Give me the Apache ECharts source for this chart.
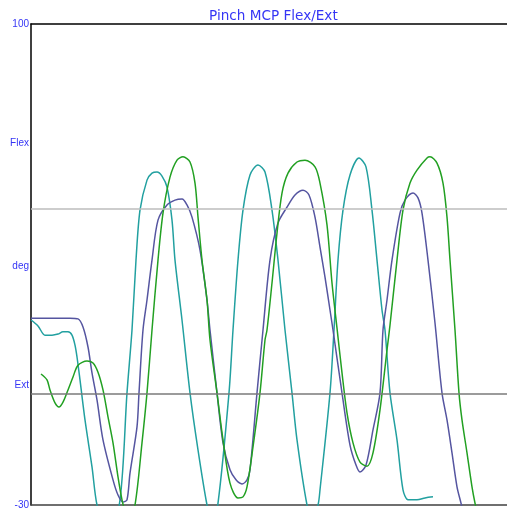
<!DOCTYPE html>
<html>
<head>
<meta charset="utf-8">
<script src="https://cdn.jsdelivr.net/npm/echarts@6/dist/echarts.min.js"></script>
<style>html,body{margin:0;padding:0;background:#fff}#c{width:507px;height:510px}</style>
</head>
<body>
<div id="c"></div>
<script>
// Chart title and axis text
const titleText = 'Pinch MCP Flex/Ext';
const yLabelValues = [100, 67.8, 34.5, 2.3, -30];
const yLabelTexts = ['100', 'Flex', 'deg', 'Ext', '-30'];
const refLevels = [50, 0];

// Sample index (time) and angle values (deg)
const tealT = [0,7,14,21,27,32,37,41,44,46,49,54,61,66,77,89,96,101,105,109,116,121,126,131,136,141,144,151,159,167,176,181,187,198,202,207,212,219,227,234,241,247,254,261,266,276,281,287,289,299,303,307,312,319,328,335,341,346,351,354,359,366,372,377,382,386,394,402];
const tealV = [20.0,18.4,15.9,15.9,16.2,16.8,16.8,15.9,13.2,10.0,3.8,-7.0,-19.7,-30,-40,-28.6,0.3,17.3,36.2,49.7,57.8,59.7,60.0,58.9,55.9,47.0,36.2,20.0,0.3,-15.1,-30,-35,-29.5,0.3,17.3,36.2,49.7,59.2,61.9,60.0,49.7,36.2,17.3,0.3,-12.4,-30,-34,-30,-25.9,0.3,17.3,36.2,49.7,59.2,63.8,61.4,49.7,36.2,22.7,17.3,0.3,-12.4,-25.9,-28.6,-28.6,-28.6,-28.1,-27.8];

const purpleT = [0,19,39,47,52,57,61,66,72,82,87,92,96,99,106,108,112,116,121,127,136,144,151,156,161,169,176,179,186,192,199,205,211,216,219,226,232,239,247,256,264,272,278,284,289,294,299,302,311,319,325,329,335,342,349,352,356,361,369,374,382,387,391,397,404,411,416,421,426,430,433];
const purpleV = [20.5,20.5,20.5,20.3,18.1,12.7,5.7,-1.6,-12.4,-23.2,-27.3,-29.2,-28.6,-21.4,-8.9,0.3,17.3,25.4,36.2,47.0,51.1,52.4,52.7,51.1,47.8,38.9,25.4,17.3,0.3,-13.2,-20.5,-23.2,-24.3,-23.2,-20.5,0.3,17.3,36.2,46.2,50.5,53.8,55.1,53.8,47.8,39.7,31.6,22.7,17.3,0.3,-13.8,-19.2,-21.1,-19.2,-9.7,0.3,17.3,25.4,36.2,48.9,52.4,54.3,53.0,48.9,36.2,19.2,0.3,-7.0,-15.9,-25.1,-29.5,-33];

const greenT = [10,16,19,24,28,32,37,42,47,56,62,67,72,77,82,87,91,94,98,104,111,116,121,127,132,139,146,152,159,164,167,171,176,179,186,192,199,207,212,216,222,229,234,236,241,246,251,257,266,274,284,289,296,301,306,311,316,322,329,336,342,349,356,359,366,372,379,386,396,399,406,412,416,419,424,428,431,436,441,444,447];
const greenV = [5.4,3.8,1.1,-2.4,-3.5,-2.2,1.1,4.6,7.8,8.9,8.4,5.9,1.1,-6.2,-13.2,-22.4,-28.6,-31.5,-34,-30,-13.2,0.3,17.3,36.2,48.9,58.6,63.2,64.1,62.7,57.0,47.8,36.2,25.4,14.6,0.3,-12.4,-24.1,-28.1,-27.8,-25.1,-14.3,0.3,14.6,17.3,30.0,43.5,54.3,59.7,62.7,63.2,61.4,57.0,45.7,30.0,17.8,5.7,-5.1,-13.2,-18.4,-19.5,-15.9,-4.3,11.9,18.6,36.2,49.7,57.0,60.5,63.8,64.1,62.4,57.0,47.8,36.2,17.3,0.3,-7.0,-15.9,-25.1,-29.5,-33];

const seriesNames = ['teal', 'purple', 'green'];
const seriesColors = ['#22A0A0', '#5555A0', '#22A022'];

function pairs(t, v) { return t.map((x, i) => [x, v[i]]); }
const allData = [pairs(tealT, tealV), pairs(purpleT, purpleV), pairs(greenT, greenV)];

const chart = echarts.init(document.getElementById('c'), null, {renderer: 'canvas'});
const labelMap = {};
yLabelValues.forEach((v, i) => labelMap[v] = yLabelTexts[i]);

const option = {
  animation: false,
  backgroundColor: '#fff',
  title: {
    text: titleText,
    left: 204, top: 4,
    textStyle: {color: '#3535F5', fontSize: 13.6, fontWeight: 'normal', fontFamily: 'DejaVu Sans'}
  },
  grid: {left: 31, right: 0, top: 24, bottom: 5, containLabel: false},
  xAxis: [
    {type: 'value', min: 0, max: 476, position: 'bottom', axisLine: {show: true, onZero: false, lineStyle: {color: '#404040', width: 1.5}}, axisTick: {show: false}, axisLabel: {show: false}, splitLine: {show: false}},
    {type: 'value', min: 0, max: 476, position: 'top', axisLine: {show: true, onZero: false, lineStyle: {color: '#000', width: 1.5}}, axisTick: {show: false}, axisLabel: {show: false}, splitLine: {show: false}}
  ],
  yAxis: {
    type: 'value', min: -30, max: 100,
    axisLine: {show: true, onZero: false, lineStyle: {color: '#000', width: 1.5}},
    axisTick: {show: false},
    splitLine: {show: false},
    axisLabel: {
      customValues: yLabelValues,
      formatter: v => labelMap[v] !== undefined ? labelMap[v] : '',
      color: '#3535F5', fontSize: 10, fontFamily: 'Liberation Sans', margin: 2
    }
  },
  series: [
    {
      type: 'line', data: [], z: 1, silent: true,
      markLine: {
        silent: true, symbol: 'none', label: {show: false},
        data: [
          {yAxis: refLevels[0], lineStyle: {color: '#BDBDBD', width: 1.5, type: 'solid'}},
          {yAxis: refLevels[1], lineStyle: {color: '#7A7A7A', width: 1.5, type: 'solid'}}
        ]
      }
    }
  ].concat(allData.map((d, i) => ({
    name: seriesNames[i], type: 'line', data: d, showSymbol: false, smooth: 0.3,
    clip: true, z: 2 + i,
    lineStyle: {color: seriesColors[i], width: 1.5}
  })))
};
chart.setOption(option);
</script>
</body>
</html>
